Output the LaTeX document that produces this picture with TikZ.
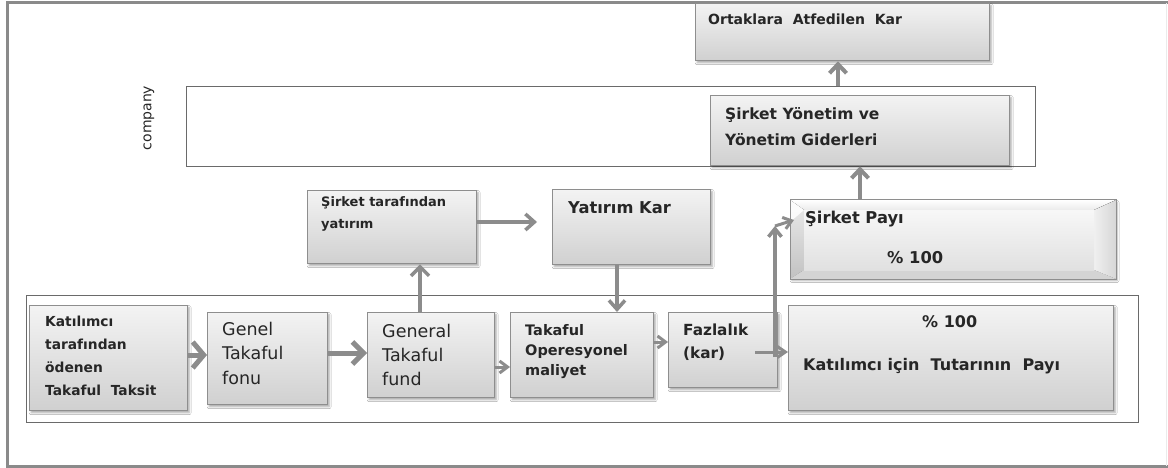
\documentclass[tikz,border=0pt]{standalone}
\usepackage{fontspec}
\setmainfont{DejaVu Sans}
\usetikzlibrary{arrows.meta,shadows.blur,calc}

\definecolor{framegray}{HTML}{8A8A8A}
\definecolor{linegray}{HTML}{6A6A6A}
\definecolor{boxedge}{HTML}{8E8E8E}
\definecolor{boxtop}{HTML}{F3F3F3}
\definecolor{boxbot}{HTML}{D0D0D0}
\definecolor{arrgray}{HTML}{8C8C8C}
\definecolor{ink}{HTML}{262626}

\begin{document}
\begin{tikzpicture}[x=1pt,y=-1pt,
  box/.style={draw=boxedge, line width=1.3pt, top color=boxtop, bottom color=boxbot,
    inner sep=0pt, anchor=north west,
    blur shadow={shadow xshift=1.5pt, shadow yshift=-2pt, shadow blur radius=2pt, shadow opacity=35}},
  grp/.style={draw=linegray, line width=1.3pt, inner sep=0pt, anchor=north west},
  % labels are placed by the baseline of their last line
  lbl/.style={anchor=base west, inner sep=0pt, text=ink, align=left},
  flow/.style n args={3}{draw=arrgray, line width=#1, -{Straight Barb[length=#2, width=#3]}}
]
\useasboundingbox (0,0) rectangle (1168,468);
\fill[white] (0,0) rectangle (1168,468);

% outer page frame
\draw[framegray, line width=3pt] (1168,3) -- (7,3) -- (7,466) -- (1168,466);
\draw[black!8, line width=1pt] (1166,3) -- (1166,466);

% group frames
\node[grp, minimum width=849, minimum height=80] (cmp) at (186,86) {};
\node[grp, minimum width=1112, minimum height=127] (part) at (26,295) {};
\node[anchor=center, rotate=90, inner sep=0pt, text=ink, font=\fontsize{14}{16}\selectfont] (cmplbl) at (149,118) {company};

% company level
\node[box, minimum width=294, minimum height=57] (ort) at (695,3) {};
\node[lbl, font=\bfseries\fontsize{14}{16}\selectfont] (ortt) at (708,25) {Ortaklara\ \ Atfedilen\ \ Kar};

\node[box, minimum width=299, minimum height=70] (yon) at (710,95) {};
\node[lbl, font=\bfseries\fontsize{15.5}{26}\selectfont] (yont) at (725,146) {Şirket Yönetim ve\\Yönetim Giderleri};

% share box with bevelled faces
\node[draw=boxedge, line width=1pt, inner sep=0pt, anchor=north west, minimum width=325, minimum height=78,
  blur shadow={shadow xshift=1.5pt, shadow yshift=-2pt, shadow blur radius=2pt, shadow opacity=35},
  top color=boxtop, bottom color=boxbot] (sp) at (790,200) {};
\fill[top color=white, bottom color=black!8] (sp.north west) -- ($(sp.north west)+(14,10)$) -- ($(sp.north east)+(-22,10)$) -- (sp.north east) -- cycle;
\fill[top color=black!8, bottom color=black!24] (sp.north west) -- ($(sp.north west)+(14,10)$) -- ($(sp.south west)+(14,-9)$) -- (sp.south west) -- cycle;
\fill[white, opacity=0.85] (sp.north west) -- ($(sp.north west)+(14,10)$) -- ($(sp.north west)+(0,22)$) -- cycle;
\fill[left color=black!6, right color=black!16] (sp.north east) -- ($(sp.north east)+(-22,10)$) -- ($(sp.south east)+(-22,-9)$) -- (sp.south east) -- cycle;
\fill[black!17] (sp.south west) -- ($(sp.south west)+(14,-9)$) -- ($(sp.south east)+(-22,-9)$) -- (sp.south east) -- cycle;
\fill[top color=black!3, bottom color=black!12] ($(sp.north west)+(14,10)$) rectangle ($(sp.south east)+(-22,-9)$);
\draw[boxedge, line width=1pt] (sp.north west) rectangle (sp.south east);
\node[lbl, font=\bfseries\fontsize{16.3}{18}\selectfont] (spt) at (805,223) {Şirket Payı};
\node[lbl, font=\bfseries\fontsize{16.3}{18}\selectfont] (sppct) at (887,263) {\% 100};

% investment level
\node[box, minimum width=169, minimum height=73] (yat) at (307,190) {};
\node[lbl, font=\bfseries\fontsize{13}{21}\selectfont] (yatt) at (321,228) {Şirket tarafından\\yatırım};

\node[box, minimum width=158, minimum height=75] (yk) at (552,189) {};
\node[lbl, font=\bfseries\fontsize{16.3}{18}\selectfont] (ykt) at (568,213) {Yatırım Kar};

% participant level
\node[box, minimum width=158, minimum height=105] (kat) at (29,305) {};
\node[lbl, font=\bfseries\fontsize{13.8}{22.7}\selectfont] (katt) at (45,395) {Katılımcı\\tarafından\\ödenen\\Takaful\ \ Taksit};

\node[box, minimum width=120, minimum height=92] (gen) at (207,312) {};
\node[lbl, font=\fontsize{17.5}{24.5}\selectfont] (gent) at (222,384) {Genel\\Takaful\\fonu};

\node[box, minimum width=127, minimum height=85] (gf) at (367,312) {};
\node[lbl, font=\fontsize{17.5}{24}\selectfont] (gft) at (382,385) {General\\Takaful\\fund};

\node[box, minimum width=143, minimum height=85] (op) at (510,312) {};
\node[lbl, font=\bfseries\fontsize{14.5}{20}\selectfont] (opt) at (525,375) {Takaful\\Operesyonel\\maliyet};

\node[box, minimum width=109, minimum height=75] (fz) at (668,312) {};
\node[lbl, font=\bfseries\fontsize{15.3}{23}\selectfont] (fzt) at (683,358) {Fazlalık\\(kar)};

\node[box, minimum width=325, minimum height=105] (kic) at (788,305) {};
\node[lbl, font=\bfseries\fontsize{16}{18}\selectfont] (kicpct) at (922,327) {\% 100};
\node[lbl, font=\bfseries\fontsize{16}{18}\selectfont] (kict) at (803,370) {Katılımcı\ için\ \ Tutarının\ \ Payı};

% connectors
\draw[flow={5pt}{11pt}{26pt}] (kat.east |- 0,355) -- (gen.west |- 0,355);
\draw[flow={5pt}{11pt}{22pt}] (gen.east |- 0,353) -- (gf.west |- 0,353);
\draw[flow={3pt}{8pt}{12pt}] (gf.east |- 0,367) -- (op.west |- 0,367);
\draw[flow={3pt}{8pt}{12pt}] (op.east |- 0,342) -- (fz.west |- 0,342);
\coordinate (fzin) at (755,352);
\draw[flow={3pt}{8pt}{11pt}] (fzin) -- (kic.west |- fzin);
\coordinate (fzlow) at (775,357);
\coordinate (fzup) at (775,226);
\draw[flow={3.5pt}{8pt}{13pt}] (fzlow) -- (fzup);
\draw[flow={3pt}{8pt}{12pt}] (fzup) -- ($(sp.west |- 0,220)+(4,0)$);
\draw[flow={3.5pt}{9pt}{18pt}] (gf.north -| 420,0) -- (yat.south -| 420,0);
\draw[flow={3.5pt}{9pt}{16pt}] (yat.east |- 0,222) -- (537,222) coordinate (ykin);
\draw[flow={3.5pt}{9pt}{16pt}] (yk.south -| 617,0) -- (op.north -| 617,0);
\draw[flow={4pt}{9pt}{17pt}] (sp.north -| 860,0) -- (yon.south -| 860,0);
\draw[flow={4pt}{9pt}{17pt}] (cmp.north -| 838,0) -- (ort.south -| 838,0);
\end{tikzpicture}
\end{document}
